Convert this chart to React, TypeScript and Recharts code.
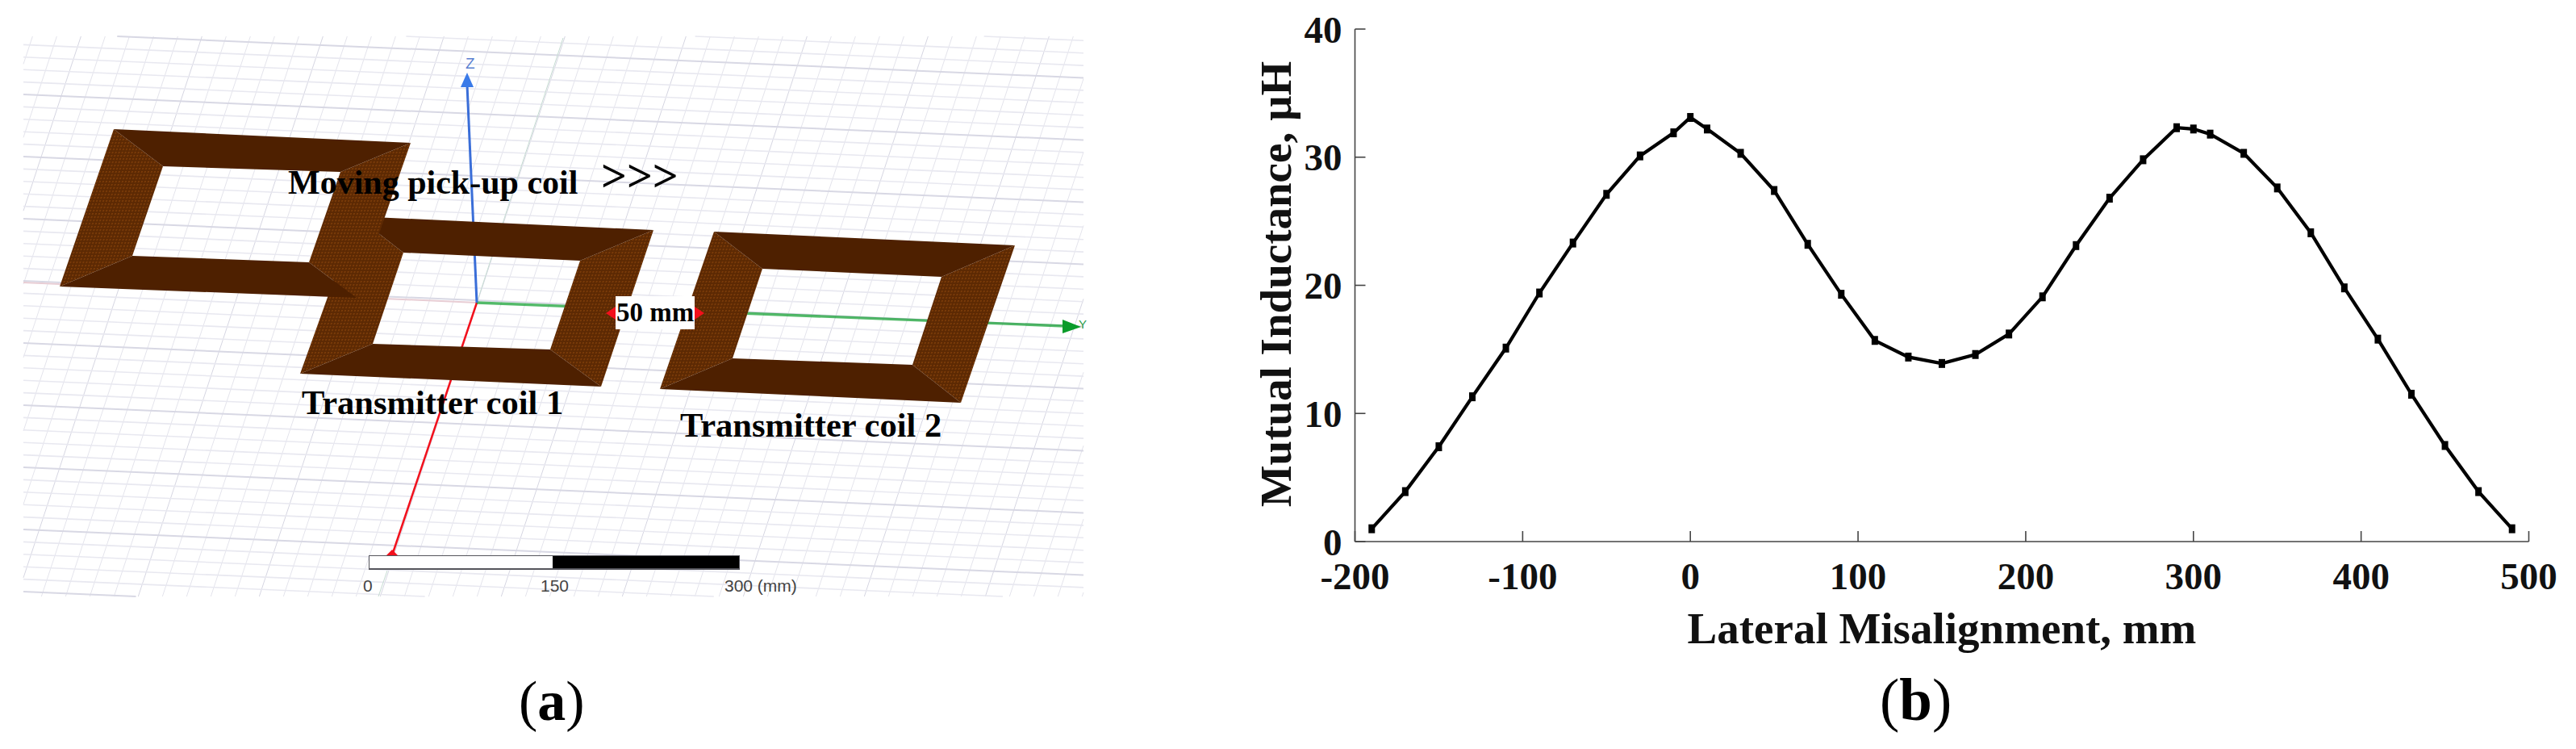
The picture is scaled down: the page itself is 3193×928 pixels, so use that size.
import { ComposedChart, Line, LineChart, XAxis, YAxis } from 'recharts';

// panel (b)
const misalignment = [
  -190, -170, -150, -130, -110, -90, -70, -50, -30, -10, 0, 10, 30, 50, 70, 90, 110, 130, 150,
  170, 190, 210, 230, 250, 270, 290, 300, 310, 330, 350, 370, 390, 410, 430, 450, 470, 490,
];
const inductance = [
  1.0, 3.9, 7.4, 11.3, 15.1, 19.4, 23.3, 27.1, 30.1, 31.9, 33.1, 32.2, 30.3, 27.4, 23.2, 19.3, 15.7,
  14.4, 13.9, 14.6, 16.2, 19.1, 23.1, 26.8, 29.8, 32.3, 32.2, 31.8, 30.3, 27.6, 24.1, 19.8, 15.8,
  11.5, 7.5, 3.9, 1.0,
];
const xTicks = [-200, -100, 0, 100, 200, 300, 400, 500];
const yTicks = [0, 10, 20, 30, 40];
const curve = misalignment.map((x, i) => ({ x, y: inductance[i] }));

// panel (a): the drawing is laid out on a hidden axis pair running in page pixels
type Pt = { x: number; y: number };
const pt = (x: number, y: number): Pt => ({ x, y });

const pickUpCoil = {
  outer: [pt(141, 160), pt(509, 177), pt(442, 369), pt(74, 355)],
  inner: [pt(202, 206), pt(422, 213), pt(383, 325), pt(164, 317)],
};
const coilOne = {
  outer: [pt(442, 268), pt(810, 285), pt(745, 479), pt(372, 463)],
  inner: [pt(500, 313), pt(719, 323), pt(682, 433), pt(462, 426)],
};
const coilTwo = {
  outer: [pt(885, 287), pt(1258, 304), pt(1191, 499), pt(818, 482)],
  inner: [pt(945, 333), pt(1167, 343), pt(1131, 452), pt(908, 444)],
};

const origin = pt(591, 375);
const zAxis = [origin, pt(579, 105)];
const yAxisLine = [origin, pt(1320, 404)];
const xAxisLine = [origin, pt(486, 688)];
const xAxisGhost = [pt(29, 350), origin];
const zGhost = [pt(698, 47), origin];
const zGhostLow = [pt(480, 707), pt(469, 739)];
const zArrow = [pt(579, 90), pt(587, 108), pt(571, 108)];
const yArrow = [pt(1340, 405), pt(1317, 396), pt(1317, 413)];
const xArrow = [pt(486, 681), pt(494, 689), pt(478, 689)];
const leftDim = [pt(751, 388), pt(763, 380), pt(763, 396)];
const rightDim = [pt(873, 388), pt(861, 380), pt(861, 396)];
const dimBox = [pt(763, 367), pt(861, 367), pt(861, 408), pt(763, 408)];
const scaleWhite = [pt(458, 689), pt(685, 689), pt(685, 704), pt(458, 704)];
const scaleBlack = [pt(685, 689), pt(916, 689), pt(916, 704), pt(685, 704)];
const scaleFrame = [pt(457, 688), pt(917, 688), pt(917, 706), pt(457, 706)];

const LEFT = 29;
const RIGHT = 1343;
const TOP = 45;
const BOTTOM = 739;

function clip(a: Pt, b: Pt): Pt[] | null {
  let t0 = 0;
  let t1 = 1;
  const dx = b.x - a.x;
  const dy = b.y - a.y;
  const checks = [
    [-dx, a.x - LEFT],
    [dx, RIGHT - a.x],
    [-dy, a.y - TOP],
    [dy, BOTTOM - a.y],
  ];
  for (const [p, q] of checks) {
    if (p === 0) {
      if (q < 0) return null;
      continue;
    }
    const t = q / p;
    if (p < 0) t0 = Math.max(t0, t);
    else t1 = Math.min(t1, t);
  }
  if (t0 >= t1) return null;
  return [pt(a.x + t0 * dx, a.y + t0 * dy), pt(a.x + t1 * dx, a.y + t1 * dy)];
}

const gridRows: { seg: Pt[]; major: boolean }[] = [];
for (let k = -10; k <= 45; k++) {
  const y0 = 40 + k * 15.4;
  const seg = clip(pt(LEFT, y0), pt(RIGHT, y0 + 0.043 * (RIGHT - LEFT)));
  if (seg) gridRows.push({ seg, major: ((k % 5) + 5) % 5 === 0 });
}
const gridCols: { seg: Pt[]; major: boolean }[] = [];
for (let k = -5; k <= 55; k++) {
  const x0 = 103 + k * 30;
  const seg = clip(pt(x0, 37), pt(x0 - 0.33 * 720, 757));
  if (seg) gridCols.push({ seg, major: ((k % 5) + 5) % 5 === 0 });
}

const polygonDot = (fill: string) => (props: any) => {
  if (props.index !== 0) return <g key={props.index} />;
  const path = props.points.map((p: Pt) => `${p.x},${p.y}`).join(' ');
  return <polygon key="shape" points={path} fill={fill} stroke="none" />;
};

const polyLine = (key: string, pts: Pt[], fill: string) => (
  <Line
    key={key}
    data={pts}
    dataKey="y"
    stroke="none"
    dot={polygonDot(fill)}
    activeDot={false}
    legendType="none"
    isAnimationActive={false}
  />
);

const segLine = (key: string, pts: Pt[], color: string, width: number, opacity = 1) => (
  <Line
    key={key}
    data={pts}
    dataKey="y"
    stroke={color}
    strokeWidth={width}
    strokeOpacity={opacity}
    dot={false}
    activeDot={false}
    legendType="none"
    isAnimationActive={false}
  />
);

const coilFaces = (name: string, c: { outer: Pt[]; inner: Pt[] }) => {
  const [a, b, d, e] = c.outer;
  const [f, g, h, i] = c.inner;
  return [
    polyLine(`${name}-left`, [a, f, i, e], 'url(#copperMesh)'),
    polyLine(`${name}-right`, [b, g, h, d], 'url(#copperMesh)'),
    polyLine(`${name}-top`, [a, b, g, f], '#4e2000'),
    polyLine(`${name}-bottom`, [e, i, h, d], '#4e2000'),
  ];
};

const serif = '"Liberation Serif", "Times New Roman", serif';

function CoilDrawing() {
  return (
    <ComposedChart
      width={1400}
      height={800}
      margin={{ top: 0, right: 0, bottom: 0, left: 0 }}
      style={{ position: 'absolute', left: 0, top: 0 }}
    >
      <defs>
        <pattern id="copperMesh" width="4" height="4" patternUnits="userSpaceOnUse" patternTransform="skewX(-18)">
          <rect width="4" height="4" fill="#5c2903" />
          <rect width="2" height="2" fill="#7c3c09" />
        </pattern>
      </defs>
      <XAxis dataKey="x" type="number" domain={[0, 1400]} hide allowDataOverflow />
      <YAxis type="number" domain={[0, 800]} reversed hide allowDataOverflow />
      {gridCols.map((g, i) => segLine(`col${i}`, g.seg, g.major ? '#d6d6e2' : '#e4e4ec', 1))}
      {gridRows.map((g, i) => segLine(`row${i}`, g.seg, g.major ? '#d8d8e4' : '#e8e8f0', g.major ? 2 : 1.6))}
      {segLine('x-ghost', xAxisGhost, '#e8cdd4', 2)}
      {segLine('z-ghost', zGhost, '#c6dcd2', 1)}
      {segLine('z-ghost-low', zGhostLow, '#c6dcd2', 1)}
      {segLine('x-axis', xAxisLine, '#f2101c', 2.5)}
      {polyLine('x-head', xArrow, '#f2101c')}
      {coilFaces('coil1', coilOne)}
      {coilFaces('coil2', coilTwo)}
      {coilFaces('pickup', pickUpCoil)}
      {segLine('y-axis', yAxisLine, '#0a9c2a', 3.4, 0.7)}
      {polyLine('y-head', yArrow, '#0a9c2a')}
      {segLine('z-axis', zAxis, '#3a6ed8', 3)}
      {polyLine('z-head', zArrow, '#3a7ae8')}
      {polyLine('dim-box', dimBox, '#ffffff')}
      {polyLine('dim-l', leftDim, '#f2101c')}
      {polyLine('dim-r', rightDim, '#f2101c')}
      {polyLine('scale-frame', scaleFrame, '#55555c')}
      {polyLine('scale-white', scaleWhite, '#ffffff')}
      {polyLine('scale-black', scaleBlack, '#000000')}
    </ComposedChart>
  );
}

const captions = [
  { text: 'Moving pick-up coil', x: 357, y: 240, size: 42 },
  { text: '>>>', x: 745, y: 237, size: 56 },
  { text: '50 mm', x: 764, y: 398, size: 33 },
  { text: 'Transmitter coil 1', x: 374, y: 513, size: 42.5 },
  { text: 'Transmitter coil 2', x: 843, y: 541, size: 42.5 },
];
const scaleLabels = [
  { text: '0', x: 450, y: 733 },
  { text: '150', x: 670, y: 733 },
  { text: '300 (mm)', x: 898, y: 733 },
];

function Annotations() {
  return (
    <svg width={1400} height={928} style={{ position: 'absolute', left: 0, top: 0 }}>
      {captions.map((c) => (
        <text key={c.text} x={c.x} y={c.y} fontFamily={serif} fontWeight={700} fontSize={c.size} fill="#000">
          {c.text}
        </text>
      ))}
      {scaleLabels.map((c) => (
        <text key={c.text} x={c.x} y={c.y} fontFamily="Liberation Sans" fontSize={21} fill="#444">
          {c.text}
        </text>
      ))}
      <text x={577} y={85} fontFamily="Liberation Sans" fontSize={19} fill="#5a7fd0">Z</text>
      <text x={1337} y={407} fontFamily="Liberation Sans" fontSize={15} fill="#2c9c4c">Y</text>
      <text x={643} y={892} fontFamily={serif} fontSize={70} fill="#000">
        (<tspan fontWeight={700}>a</tspan>)
      </text>
    </svg>
  );
}

const SquareDot = (props: any) => (
  <rect key={props.index} x={props.cx - 4} y={props.cy - 5.5} width={8} height={11} fill="#000" />
);

const tickStyle = { fontFamily: serif, fontWeight: 700, fontSize: 47, fill: '#111' };

const xTitle = () => (
  <text x={847} y={797} textAnchor="middle" fontFamily={serif} fontWeight={700} fontSize={55} fill="#111">
    Lateral Misalignment, mm
  </text>
);
const yTitle = () => (
  <text
    x={40}
    y={352}
    transform="rotate(-90 40 352)"
    textAnchor="middle"
    fontFamily={serif}
    fontWeight={700}
    fontSize={55}
    fill="#111"
  >
    Mutual Inductance, µH
  </text>
);

function InductanceChart() {
  return (
    <LineChart
      width={1633}
      height={928}
      data={curve}
      margin={{ top: 36, right: 58.5, bottom: 197, left: 0 }}
      style={{ position: 'absolute', left: 1560, top: 0 }}
    >
      <XAxis
        dataKey="x"
        type="number"
        domain={[-200, 500]}
        ticks={xTicks}
        interval={0}
        height={60}
        tick={tickStyle}
        tickSize={-13}
        tickMargin={39}
        stroke="#444"
        strokeWidth={1.6}
        label={xTitle}
      />
      <YAxis
        type="number"
        domain={[0, 40]}
        ticks={yTicks}
        interval={0}
        width={119.5}
        tick={tickStyle}
        tickSize={-13}
        tickMargin={29}
        stroke="#444"
        strokeWidth={1.6}
        label={yTitle}
      />
      <Line
        dataKey="y"
        type="linear"
        stroke="#000"
        strokeWidth={4.2}
        dot={SquareDot}
        activeDot={false}
        isAnimationActive={false}
      />
    </LineChart>
  );
}

export default function App() {
  return (
    <div style={{ position: 'absolute', left: 0, top: 0, width: 3193, height: 928, background: '#fff', overflow: 'hidden' }}>
      <CoilDrawing />
      <Annotations />
      <InductanceChart />
      <svg width={120} height={100} style={{ position: 'absolute', left: 2320, top: 820 }}>
        <text x={10} y={72} fontFamily={serif} fontSize={73} fill="#000">
          (<tspan fontWeight={700}>b</tspan>)
        </text>
      </svg>
    </div>
  );
}
